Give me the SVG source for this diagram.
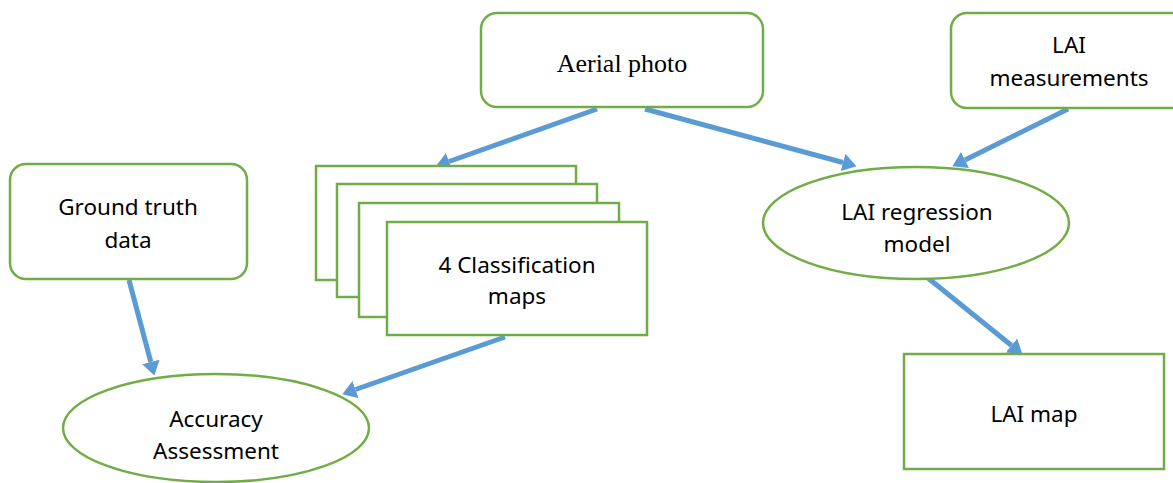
<svg xmlns="http://www.w3.org/2000/svg" width="1173" height="483" viewBox="0 0 1173 483">
  <defs>
    <style>
      .box { fill: #ffffff; stroke: #70AD47; stroke-width: 2.5; }
      .lbl { font-family: "Noto Sans", "Open Sans", "Liberation Sans", sans-serif; font-size: 22.5px; fill: #000000; text-anchor: middle; }
      .serif { font-family: "Liberation Serif", "Times New Roman", serif; font-size: 26px; fill: #000000; text-anchor: middle; }
      .flow { fill: none; stroke: #5B9BD5; stroke-width: 5; marker-end: url(#head); }
    </style>
    <marker id="head" markerUnits="userSpaceOnUse" markerWidth="14" markerHeight="18" refX="0" refY="9" orient="auto">
      <path d="M0,0 L14,9 L0,18 z" fill="#5B9BD5"/>
    </marker>
  </defs>
  <rect width="1173" height="483" fill="#ffffff"/>

  <!-- connectors -->
  <g id="connectors">
    <line class="flow" x1="597" y1="109" x2="449" y2="161.5"/>
    <line class="flow" x1="645" y1="109" x2="843" y2="162.5"/>
    <line class="flow" x1="1068" y1="109" x2="965" y2="160"/>
    <line class="flow" x1="928" y1="278" x2="1011.5" y2="345.5"/>
    <line class="flow" x1="129" y1="280" x2="150.8" y2="362"/>
    <line class="flow" x1="505" y1="337" x2="355.5" y2="389.5"/>
  </g>

  <g id="aerial-photo">
    <rect class="box" x="481" y="13" width="282" height="94" rx="16"/>
    <text class="serif" x="622" y="72">Aerial photo</text>
  </g>

  <g id="lai-measurements">
    <rect class="box" x="951" y="13" width="236" height="95" rx="16"/>
    <text class="lbl" x="1069" y="53">LAI</text>
    <text class="lbl" x="1069" y="86">measurements</text>
  </g>

  <g id="ground-truth">
    <rect class="box" x="10" y="164" width="237" height="115" rx="16"/>
    <text class="lbl" x="128" y="215">Ground truth</text>
    <text class="lbl" x="128" y="248">data</text>
  </g>

  <g id="classification-maps">
    <rect class="box" x="316" y="166" width="260" height="114"/>
    <rect class="box" x="337" y="184" width="260" height="113"/>
    <rect class="box" x="359" y="203" width="260" height="114"/>
    <rect class="box" x="387" y="222" width="260" height="113"/>
    <text class="lbl" x="517" y="273">4 Classification</text>
    <text class="lbl" x="517" y="304">maps</text>
  </g>

  <g id="lai-regression">
    <ellipse class="box" cx="916" cy="223" rx="153" ry="56"/>
    <text class="lbl" x="917" y="220">LAI regression</text>
    <text class="lbl" x="917" y="252">model</text>
  </g>

  <g id="accuracy-assessment">
    <ellipse class="box" cx="216" cy="428" rx="153" ry="54"/>
    <text class="lbl" x="216" y="427">Accuracy</text>
    <text class="lbl" x="216" y="459">Assessment</text>
  </g>

  <g id="lai-map">
    <rect class="box" x="904" y="354" width="260" height="115"/>
    <text class="lbl" x="1034" y="422">LAI map</text>
  </g>
</svg>
